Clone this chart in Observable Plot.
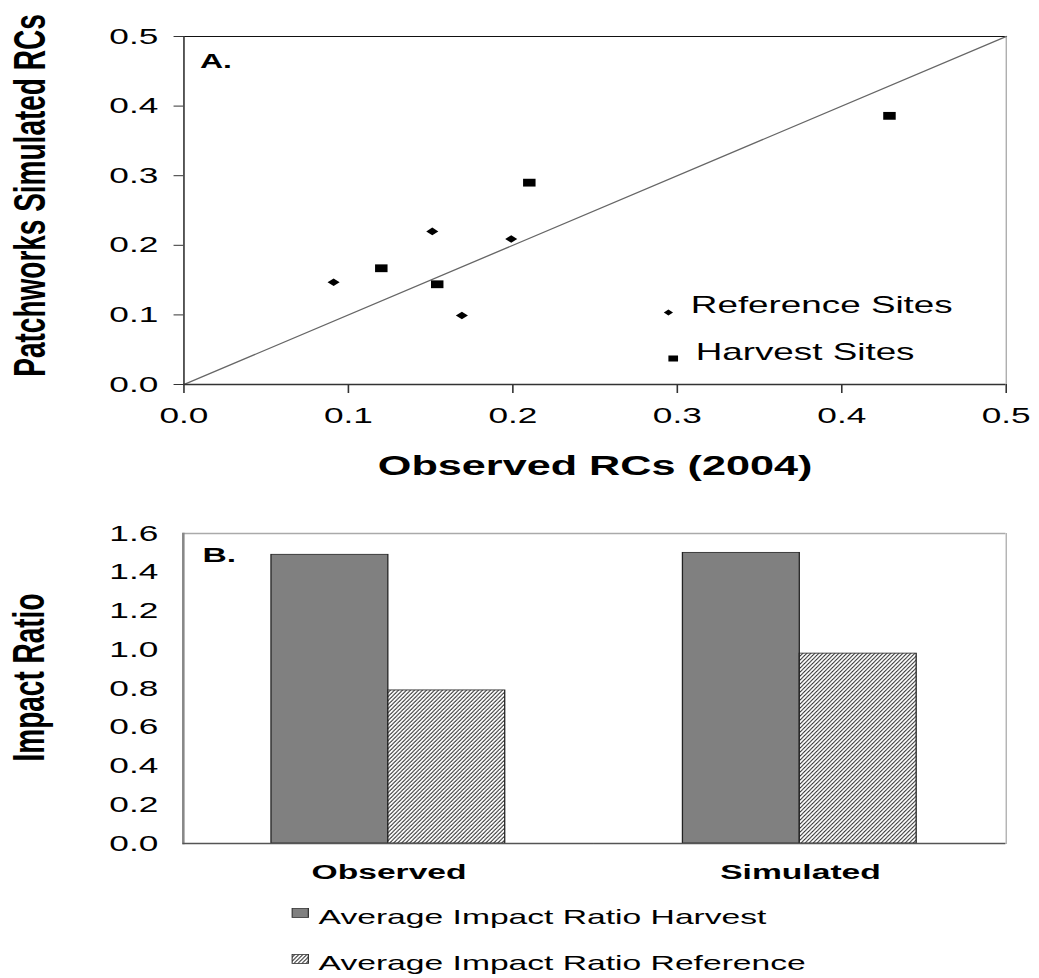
<!DOCTYPE html>
<html>
<head>
<meta charset="utf-8">
<script src="https://cdn.jsdelivr.net/npm/d3@7"></script>
<script src="https://cdn.jsdelivr.net/npm/@observablehq/plot@0.6"></script>
<style>
  html, body { margin: 0; padding: 0; background: #fff; }
  #stage { position: relative; width: 649px; height: 978px; transform: scaleX(1.601); transform-origin: 0 0;
           font-family: "Liberation Sans", Arial, Helvetica, sans-serif; color: #000; overflow: hidden; }
  #top, #bottom { position: absolute; left: 0; }
  #top { top: 0; }
  #bottom { top: 500px; }
  #legendB { position: absolute; left: 0; top: 895px; width: 649px; height: 83px; }
  .lgrow { position: absolute; left: 182px; height: 24px; font-size: 21px; line-height: 24px; white-space: nowrap; }
  .lgrow svg { position: absolute; left: 0; }
  .lgrow span { position: absolute; left: 17px; top: 0; }
</style>
</head>
<body>
<svg width="0" height="0" style="position:absolute">
  <defs>
    <pattern id="hatch" patternUnits="userSpaceOnUse" width="2.5" height="4">
      <rect width="2.5" height="4" fill="#fff"></rect>
      <path d="M0,4L2.5,0M-0.625,1L0.625,-1M1.875,5L3.125,3" stroke="#333" stroke-width="0.75"></path>
    </pattern>
  </defs>
</svg>
<div id="stage">
  <div id="top"></div>
  <div id="bottom"></div>
  <div id="legendB"></div>
</div>
<script>
// ---------- Data: panel A ----------
const siteTypes = ["Reference Sites", "Harvest Sites"];
const referenceObserved = [0.091, 0.151, 0.169, 0.199];
const referenceSimulated = [0.147, 0.220, 0.099, 0.209];
const harvestObserved = [0.120, 0.154, 0.210, 0.429];
const harvestSimulated = [0.167, 0.144, 0.290, 0.386];
const ticksA = [0, 0.1, 0.2, 0.3, 0.4, 0.5];
const diagonal = [0, 0.5];
const panelA = "A.";
const xTitleA = "Observed RCs (2004)";
const yTitleA = "Patchworks Simulated RCs";

// ---------- Data: panel B ----------
const categories = ["Observed", "Simulated"];
const seriesKeys = ["Harvest", "Reference"];
const seriesLabels = ["Average Impact Ratio Harvest", "Average Impact Ratio Reference"];
const harvestRatio = [1.49, 1.50];
const referenceRatio = [0.79, 0.98];
const ticksB = [0, 0.2, 0.4, 0.6, 0.8, 1.0, 1.2, 1.4, 1.6];
const panelB = "B.";
const yTitleB = "Impact Ratio";

const FONT = '"Liberation Sans", Arial, Helvetica, sans-serif';
const fmt1 = d => d.toFixed(1);

const refPoints = referenceObserved.map((x, i) => ({x, y: referenceSimulated[i], type: siteTypes[0]}));
const harPoints = harvestObserved.map((x, i) => ({x, y: harvestSimulated[i], type: siteTypes[1]}));

const chartA = Plot.plot({
  width: 649, height: 500,
  marginLeft: 114.4, marginRight: 21, marginTop: 36, marginBottom: 116,
  style: {fontFamily: FONT, fontSize: "22px", background: "transparent", color: "#000", overflow: "visible"},
  x: {domain: [0, 0.5]},
  y: {domain: [0, 0.5]},
  marks: [
    Plot.axisX(ticksA, {anchor: "bottom", tickSize: 9, tickPadding: 14, tickFormat: fmt1, fontSize: 22, label: null, stroke: "#333"}),
    Plot.axisY(ticksA, {anchor: "left", tickSize: 6, tickPadding: 10, tickFormat: fmt1, fontSize: 22, label: null, stroke: "#333"}),
    Plot.ruleY([0.5], {stroke: "#111", strokeWidth: 1}),
    Plot.ruleX([0.5], {stroke: "#999", strokeWidth: 0.7}),
    Plot.line(diagonal, {x: d => d, y: d => d, stroke: "#666", strokeWidth: 1.2}),
    Plot.ruleX([0], {stroke: "#333", strokeWidth: 1}),
    Plot.ruleY([0], {stroke: "#333", strokeWidth: 1.5}),
    Plot.dot(refPoints, {x: "x", y: "y", symbol: "diamond2", r: 3.4, fill: "#000", stroke: "none"}),
    Plot.dot(harPoints, {x: "x", y: "y", symbol: "square", r: 4.4, fill: "#000", stroke: "none"}),
    Plot.text([panelA], {text: d => d, frameAnchor: "top-left", dx: 10, dy: 17, lineAnchor: "top", textAnchor: "start", fontSize: 20, fontWeight: "bold"}),
    Plot.text([xTitleA], {text: d => d, frameAnchor: "bottom", dy: 90, textAnchor: "middle", fontSize: 27, fontWeight: "bold"}),
    Plot.text([yTitleA], {text: d => d, frameAnchor: "left", rotate: -90, dx: -96, dy: -15, textAnchor: "middle", lineAnchor: "middle", fontSize: 28, fontWeight: "bold"}),
    // legend inside the plot area
    Plot.dot([siteTypes[0]], {frameAnchor: "bottom-right", dx: -211, dy: -72, symbol: "diamond2", r: 2.6, fill: "#000", stroke: "none"}),
    Plot.text([siteTypes[0]], {text: d => d, frameAnchor: "bottom-right", dx: -197, dy: -72, textAnchor: "start", fontSize: 23}),
    Plot.dot([siteTypes[1]], {frameAnchor: "bottom-right", dx: -208, dy: -26, symbol: "square", r: 3.4, fill: "#000", stroke: "none"}),
    Plot.text([siteTypes[1]], {text: d => d, frameAnchor: "bottom-right", dx: -194, dy: -25, textAnchor: "start", fontSize: 23})
  ]
});
document.getElementById("top").appendChild(chartA);

// ---------- Panel B ----------
const barData = categories.flatMap((c, i) => [
  {category: c, series: seriesKeys[0], value: harvestRatio[i]},
  {category: c, series: seriesKeys[1], value: referenceRatio[i]}
]);

const chartB = Plot.plot({
  width: 649, height: 395,
  marginLeft: 113.75, marginRight: 21, marginTop: 33, marginBottom: 52,
  style: {fontFamily: FONT, fontSize: "22px", background: "transparent", color: "#000", overflow: "visible"},
  fx: {domain: categories, padding: 0},
  x: {domain: seriesKeys, paddingInner: 0, paddingOuter: 0.74, axis: null},
  y: {domain: [0, 1.6]},
  marks: [
    Plot.axisY(ticksB, {anchor: "left", tickSize: 0, tickPadding: 15.6, tickFormat: fmt1, fontSize: 22, label: null}),
    Plot.axisFx({anchor: "bottom", tickSize: 0, tickPadding: 21, fontSize: 21, fontWeight: "bold", label: null}),
    Plot.ruleY([1.6], {stroke: "#aaa", strokeWidth: 1.5}),
    Plot.frame({anchor: "left", facetAnchor: "left", stroke: "#888", strokeWidth: 1.6}),
    Plot.frame({anchor: "right", facetAnchor: "right", stroke: "#aaa", strokeWidth: 0.8}),
    Plot.barY(barData.filter(d => d.series === seriesKeys[0]), {fx: "category", x: "series", y: "value", fill: "#808080", stroke: "#222", strokeWidth: 0.8}),
    Plot.barY(barData.filter(d => d.series === seriesKeys[1]), {fx: "category", x: "series", y: "value", fill: "url(#hatch)", stroke: "#222", strokeWidth: 0.8}),
    Plot.ruleY([0], {stroke: "#555", strokeWidth: 1.5}),
    Plot.text([panelB], {text: d => d, facetAnchor: "left", frameAnchor: "top-left", dx: 12, dy: 14, lineAnchor: "top", textAnchor: "start", fontSize: 21, fontWeight: "bold"}),
    Plot.text([yTitleB], {text: d => d, facetAnchor: "left", frameAnchor: "left", rotate: -90, dx: -96, dy: -11, textAnchor: "middle", lineAnchor: "middle", fontSize: 28, fontWeight: "bold"})
  ]
});
document.getElementById("bottom").appendChild(chartB);

// ---------- Legend for panel B (below the SVG) ----------
const legendB = document.getElementById("legendB");
const swatchFills = ["#808080", "url(#hatch)"];
const rowTops = [10, 56];
seriesLabels.forEach((label, i) => {
  const row = document.createElement("div");
  row.className = "lgrow";
  row.style.top = rowTops[i] + "px";
  row.innerHTML = `<svg width="11" height="10" style="top:3px"><rect x="0.4" y="0.5" width="10.2" height="9" fill="${swatchFills[i]}" stroke="#333" stroke-width="0.8"></rect></svg>`;
  const span = document.createElement("span");
  span.textContent = label;
  row.appendChild(span);
  legendB.appendChild(row);
});
</script>
</body>
</html>
